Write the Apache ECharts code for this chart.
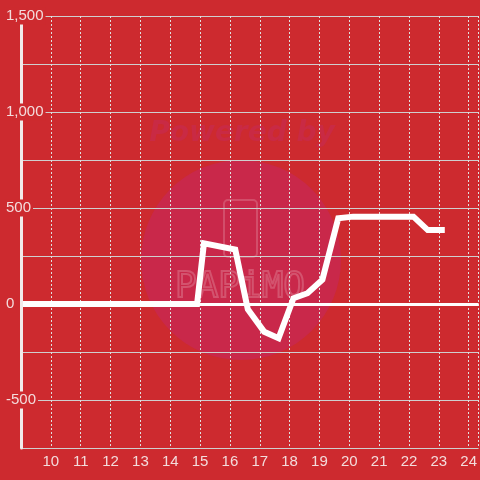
<!DOCTYPE html>
<html>
<head>
<meta charset="utf-8">
<script src="https://cdn.jsdelivr.net/npm/echarts@6/dist/echarts.min.js"></script>
<style>html,body{margin:0;padding:0;background:#cd2a2f}#c{width:480px;height:480px}</style>
</head>
<body>
<div id="c"></div>
<script>
var hours = [9, 14.9, 15.13, 16.18, 16.6, 17.15, 17.63, 18.13, 18.6, 19.1, 19.63, 20.13, 20.63, 21.13, 21.63, 22.15, 22.63, 23.2];
var values = [0, 0, 316, 283, -28, -145, -178, 30, 56, 127, 447, 455, 455, 455, 455, 455, 385, 385];
var yTicks = [-500, 0, 500, 1000, 1500];

var chart = echarts.init(document.getElementById('c'), null, {renderer: 'canvas'});
var labelColor = '#f3dcdc';
var pts = hours.map(function (h, i) { return [h, values[i]]; });

chart.setOption({
  backgroundColor: '#cd2a2f',
  animation: false,
  grid: {left: 21, right: 0, top: 16, bottom: 32, containLabel: false},
  graphic: [
    {type: 'circle', z: -10, shape: {cx: 241, cy: 260, r: 100}, style: {fill: '#c9284a'}, silent: true},
    {type: 'text', z: -9, x: 242, y: 134, style: {text: 'Powered by', font: 'italic bold 28px "DejaVu Sans"', fill: '#c92a44', align: 'center', verticalAlign: 'middle'}, silent: true},
    {type: 'rect', z: -9, shape: {x: 224, y: 200, width: 33, height: 57, r: 4}, style: {fill: 'none', stroke: 'rgba(255,255,255,0.18)', lineWidth: 2}, silent: true},
    {type: 'text', z: -9, x: 240, y: 288, style: {text: 'PAPiMO', font: '36px "DejaVu Sans Mono"', fill: 'rgba(0,0,0,0)', stroke: 'rgba(255,255,255,0.2)', lineWidth: 2, align: 'center', verticalAlign: 'middle'}, silent: true}
  ],
  xAxis: {
    type: 'value', min: 9, max: 24.3333, interval: 1,
    axisLine: {show: false}, axisTick: {show: false},
    axisLabel: {
      color: labelColor, fontSize: 15, margin: 6, showMinLabel: false, showMaxLabel: false,
      formatter: function (v) { return Math.abs(v - Math.round(v)) < 1e-6 && v > 9 ? String(Math.round(v)) : ''; }
    },
    splitLine: {show: true, lineStyle: {color: '#e0e0e0', width: 1, type: [2, 2]}}
  },
  yAxis: [
    {
      type: 'value', min: -750, max: 1500, interval: 250, z: 0,
      axisLine: {show: false}, axisTick: {show: false}, axisLabel: {show: false},
      splitLine: {show: true, lineStyle: {color: '#cfcfcf', width: 1}}
    },
    {
      type: 'value', min: -750, max: 1500, interval: 250, z: 5, position: 'left',
      axisLine: {show: true, onZero: false, lineStyle: {color: '#f2eaea', width: 3}},
      axisTick: {show: false}, splitLine: {show: false},
      axisLabel: {
        color: labelColor, fontSize: 15, align: 'left', margin: 17,
        backgroundColor: '#cd2a2f', padding: [1, 2, 1, 2], lineHeight: 15,
        formatter: function (v) { return yTicks.indexOf(v) >= 0 ? v.toLocaleString('en-US') : ''; }
      }
    }
  ],
  series: [{
    type: 'line', data: pts, yAxisIndex: 0, showSymbol: false, symbol: 'none', z: 3,
    lineStyle: {color: '#ffffff', width: 6, join: 'miter'},
    markLine: {
      silent: true, symbol: 'none', label: {show: false},
      lineStyle: {color: '#ffffff', width: 3, type: 'solid'},
      data: [{yAxis: 0}]
    }
  }]
});
</script>
</body>
</html>
